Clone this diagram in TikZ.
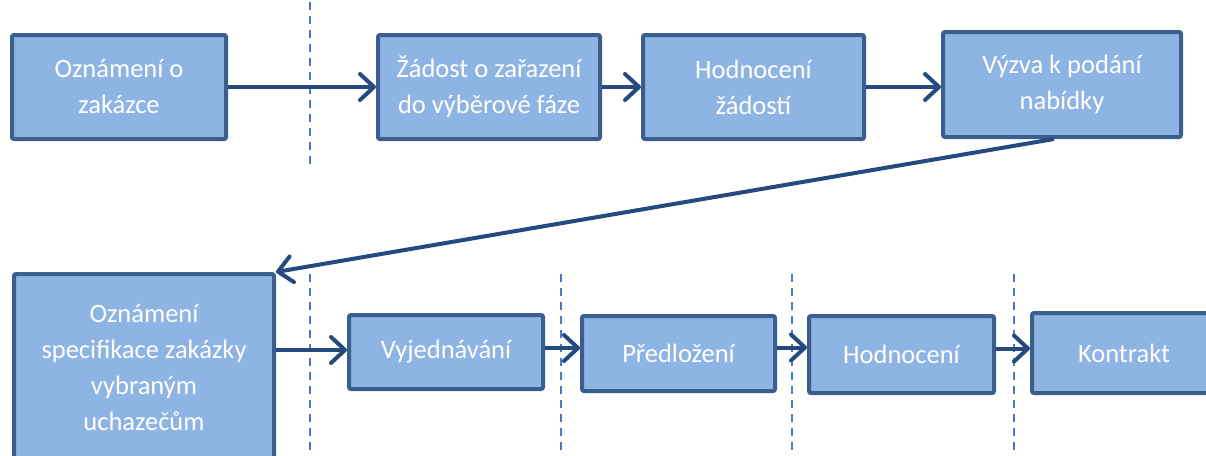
\documentclass[tikz,border=0pt]{standalone}
\usepackage{fontspec}
\setmainfont{Carlito}
\usetikzlibrary{arrows.meta}
\definecolor{boxfill}{HTML}{8EB4E3}
\definecolor{boxline}{HTML}{3A5F8E}
\definecolor{arrline}{HTML}{244A7F}
\definecolor{sepline}{HTML}{4A7EBB}
\tikzset{
  box/.style={draw=boxline, fill=boxfill, line width=4pt, rounded corners=2pt,
    inner sep=0pt, align=center, text=white,
    font=\fontsize{26.5}{36}\selectfont},
  arr/.style={draw=arrline, line width=4pt,
    -{Straight Barb[length=14pt,width=26pt,line cap=round,line join=round]}},
  sep/.style={draw=sepline, line width=1.8pt, dash pattern=on 8pt off 6pt}
}
\begin{document}
\begin{tikzpicture}[x=1pt,y=-1pt]
\useasboundingbox (0,0) rectangle (1206,455);
\clip (0,0) rectangle (1206,455);

% phase separators
\draw[sep] (310,2) -- (310,167);
\draw[sep] (310,274) -- (310,455);
\draw[sep] (561,274) -- (561,455);
\draw[sep] (792,274) -- (792,455);
\draw[sep] (1014,274) -- (1014,455);

% first row
\node[box, minimum width=214pt, minimum height=104pt] (ozn) at (119,87) {Oznámení o\\zakázce};
\node[box, minimum width=222pt, minimum height=104pt] (zad) at (489,87) {Žádost o zařazení\\do výběrové fáze};
\node[box, minimum width=221pt, minimum height=104pt] (hzad) at (753.5,87) {Hodnocení\\žádostí};
\node[box, minimum width=238pt, minimum height=105pt] (vyz) at (1062,84.5) {Výzva k podání\\nabídky};

% second row
\node[box, minimum width=260pt, minimum height=188pt] (spec) at (144,368) {Oznámení\\specifikace zakázky\\vybraným\\uchazečům};
\node[box, minimum width=194pt, minimum height=74pt] (vyj) at (446,352) {Vyjednávání};
\node[box, minimum width=193pt, minimum height=75pt] (pre) at (678.5,353.5) {Předložení};
\node[box, minimum width=185pt, minimum height=77pt] (hod) at (901.5,354.5) {Hodnocení};
\node[box, minimum width=184pt, minimum height=80pt] (kon) at (1124,353) {Kontrakt};

% connectors
\draw[arr] (ozn.east) -- (ozn.east -| zad.west);
\draw[arr] (zad.east) -- (zad.east -| hzad.west);
\draw[arr] (hzad.east) -- (hzad.east -| vyz.west);
\draw[arr] ([xshift=-8pt]vyz.south) -- (spec.north east);
\draw[arr] ([yshift=2pt]vyj.west -| spec.east) -- ([yshift=2pt]vyj.west);
\draw[arr] ([yshift=4pt]vyj.east) -- ([yshift=4pt]vyj.east -| pre.west);
\draw[arr] ([yshift=6pt]pre.east) -- ([yshift=6pt]pre.east -| hod.west);
\draw[arr] ([yshift=6pt]hod.east) -- ([yshift=6pt]hod.east -| kon.west);
\end{tikzpicture}
\end{document}
